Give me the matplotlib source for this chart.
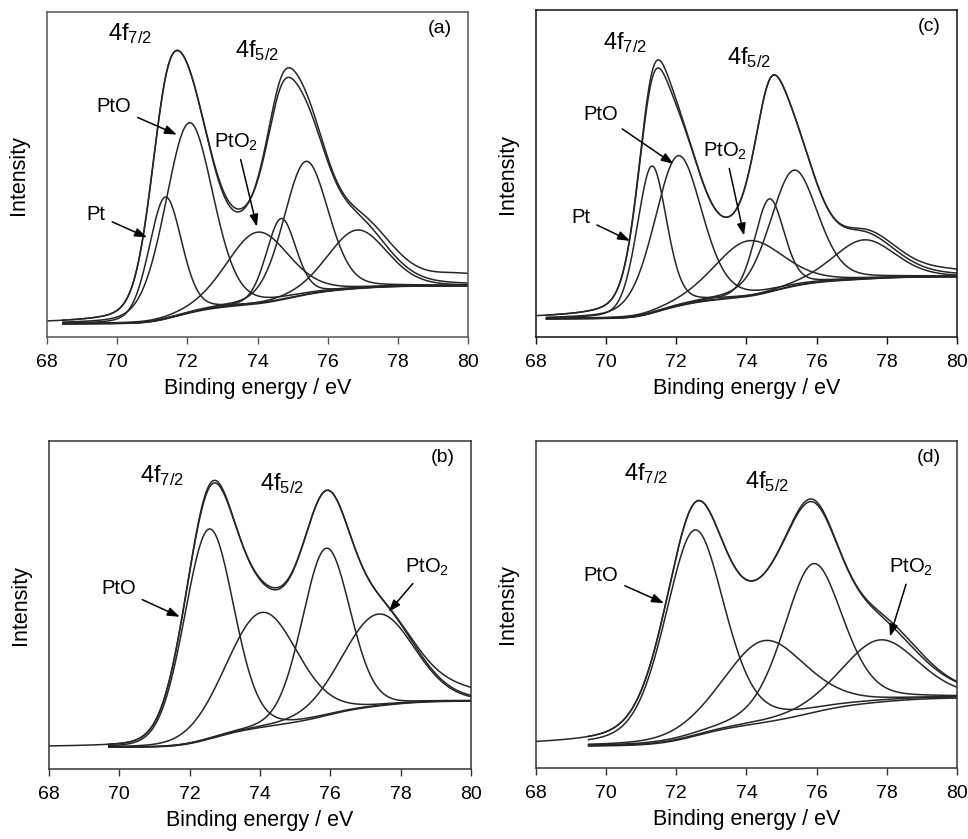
import numpy as np
import matplotlib.pyplot as plt

plt.rcParams['font.family'] = ['Liberation Sans', 'DejaVu Sans']
plt.rcParams['mathtext.fontset'] = 'custom'
plt.rcParams['mathtext.rm'] = 'Liberation Sans'
plt.rcParams['mathtext.it'] = 'Liberation Sans:italic'

# fitted components: centre (eV), height above background, FWHM (eV)
a_centers = [71.37, 72.05, 74.0, 74.67, 75.38, 76.84]
a_heights = [0.375, 0.585, 0.22, 0.25, 0.41, 0.18]
a_fwhm = [1.1, 1.6, 2.1, 1.0, 1.5, 2.0]
a_mix = 0.2
a_bg = [0.041, 0.158]
a_fit_start = 68.45
# measured spectrum minus fitted envelope: centre, amplitude, width
a_res_c = [73.3, 75.0, 77.7, 79.8]
a_res_a = [-0.012, 0.03, 0.02, 0.03]
a_res_w = [0.5, 0.7, 0.7, 1.0]

c_centers = [71.3, 72.05, 74.05, 74.65, 75.35, 77.35]
c_heights = [0.45, 0.46, 0.17, 0.285, 0.355, 0.12]
c_fwhm = [1.0, 1.6, 2.3, 1.0, 1.6, 2.1]
c_mix = 0.25
c_bg = [0.056, 0.185]
c_fit_start = 68.3
c_res_c = [71.55, 78.0, 79.8]
c_res_a = [0.025, 0.01, 0.012]
c_res_w = [0.45, 0.8, 0.8]

b_centers = [72.55, 74.05, 75.88, 77.36]
b_heights = [0.64, 0.35, 0.51, 0.28]
b_fwhm = [1.65, 2.4, 1.6, 2.4]
b_mix = 0.1
b_bg = [0.066, 0.207]
b_fit_start = 69.7
b_res_c = [72.6, 74.4, 79.8]
b_res_a = [0.008, -0.006, 0.025]
b_res_w = [0.5, 0.5, 0.9]

d_centers = [72.52, 74.5, 75.9, 77.8]
d_heights = [0.63, 0.25, 0.455, 0.19]
d_fwhm = [2.0, 2.8, 2.0, 2.6]
d_mix = 0.3
d_bg = [0.066, 0.214]
d_fit_start = 69.5
d_res_c = [75.8, 78.5]
d_res_a = [0.008, 0.012]
d_res_w = [0.5, 0.8]

x = np.linspace(68, 80, 721)


def peak(x, c, h, w, eta):
    s = w / 2.355
    g = np.exp(-(x - c) ** 2 / (2 * s ** 2))
    l = 1 / (1 + ((x - c) / (w / 2)) ** 2)
    return h * ((1 - eta) * g + eta * l)


def draw(ax, centers, heights, fwhm, eta, bg, fit_start, rc, ra, rw):
    comps = [peak(x, c, h, w, eta) for c, h, w in zip(centers, heights, fwhm)]
    tot = np.sum(comps, axis=0)
    cum = np.cumsum(tot)
    back = bg[0] + (bg[1] - bg[0]) * cum / cum[-1]
    env = back + tot
    res = np.zeros_like(x)
    for c, a, w in zip(rc, ra, rw):
        res += a * np.exp(-(x - c) ** 2 / (2 * w ** 2))
    meas = env + res
    m = x >= fit_start
    kw = dict(color='#262626', lw=1.1)
    ax.plot(x, meas, **kw)
    ax.plot(x[m], env[m], **kw)
    ax.plot(x[m], back[m], **kw)
    for p in comps:
        ax.plot(x[m], back[m] + p[m], **kw)


def style(ax, tag, edge):
    ax.set_xlim(68, 80)
    ax.set_ylim(0, 1)
    ax.set_xticks(range(68, 81, 2))
    ax.set_yticks([])
    ax.tick_params(axis='x', direction='out', length=5, width=1, color=edge,
                   labelsize=14, pad=7)
    for s in ax.spines.values():
        s.set_color(edge)
        s.set_linewidth(1.1)
    ax.set_xlabel('Binding energy / eV', fontsize=15.5, labelpad=5)
    ax.set_ylabel('Intensity', fontsize=15.5, labelpad=13)
    ax.text(79.2, 0.95, tag, fontsize=14, ha='center', va='center')


def label(ax, txt, xy, xytext):
    ax.annotate(txt, xy=xy, xytext=xytext, fontsize=14.5, ha='center', va='center',
                arrowprops=dict(arrowstyle='-|>,head_length=0.5,head_width=0.18',
                                color='k', lw=1.1, shrinkA=3, shrinkB=0))


fig = plt.figure(figsize=(9.68, 8.39), dpi=100)
ax_a = fig.add_axes([0.0486, 0.598, 0.4349, 0.3877])
ax_c = fig.add_axes([0.5537, 0.598, 0.4349, 0.3897])
ax_b = fig.add_axes([0.0506, 0.0834, 0.4359, 0.3910])
ax_d = fig.add_axes([0.5537, 0.0846, 0.4349, 0.3898])

draw(ax_a, a_centers, a_heights, a_fwhm, a_mix, a_bg, a_fit_start, a_res_c, a_res_a, a_res_w)
style(ax_a, '(a)', '#555555')
ax_a.text(69.75, 0.935, '4f$_{\\mathrm{7/2}}$', fontsize=17, va='center')
ax_a.text(73.35, 0.883, '4f$_{\\mathrm{5/2}}$', fontsize=17, va='center')
label(ax_a, 'PtO', (71.7, 0.623), (69.9, 0.708))
label(ax_a, 'Pt', (70.85, 0.307), (69.4, 0.377))
label(ax_a, 'PtO$_{\\mathrm{2}}$', (73.98, 0.34), (73.4, 0.6))

draw(ax_c, c_centers, c_heights, c_fwhm, c_mix, c_bg, c_fit_start, c_res_c, c_res_a, c_res_w)
style(ax_c, '(c)', '#111111')
ax_c.text(69.9, 0.901, '4f$_{\\mathrm{7/2}}$', fontsize=17, va='center')
ax_c.text(73.45, 0.855, '4f$_{\\mathrm{5/2}}$', fontsize=17, va='center')
label(ax_c, 'PtO', (71.92, 0.53), (69.85, 0.682))
label(ax_c, 'Pt', (70.68, 0.295), (69.28, 0.367))
label(ax_c, 'PtO$_{\\mathrm{2}}$', (73.93, 0.311), (73.4, 0.57))

draw(ax_b, b_centers, b_heights, b_fwhm, b_mix, b_bg, b_fit_start, b_res_c, b_res_a, b_res_w)
style(ax_b, '(b)', '#333333')
ax_b.text(70.6, 0.895, '4f$_{\\mathrm{7/2}}$', fontsize=17, va='center')
ax_b.text(74.0, 0.87, '4f$_{\\mathrm{5/2}}$', fontsize=17, va='center')
label(ax_b, 'PtO', (71.72, 0.464), (69.97, 0.55))
label(ax_b, 'PtO$_{\\mathrm{2}}$', (77.66, 0.479), (78.75, 0.616))

draw(ax_d, d_centers, d_heights, d_fwhm, d_mix, d_bg, d_fit_start, d_res_c, d_res_a, d_res_w)
style(ax_d, '(d)', '#333333')
ax_d.text(70.5, 0.9, '4f$_{\\mathrm{7/2}}$', fontsize=17, va='center')
ax_d.text(73.95, 0.875, '4f$_{\\mathrm{5/2}}$', fontsize=17, va='center')
label(ax_d, 'PtO', (71.65, 0.504), (69.85, 0.59))
label(ax_d, 'PtO$_{\\mathrm{2}}$', (78.09, 0.402), (78.7, 0.615))

fig.savefig('out.png', dpi=100)
